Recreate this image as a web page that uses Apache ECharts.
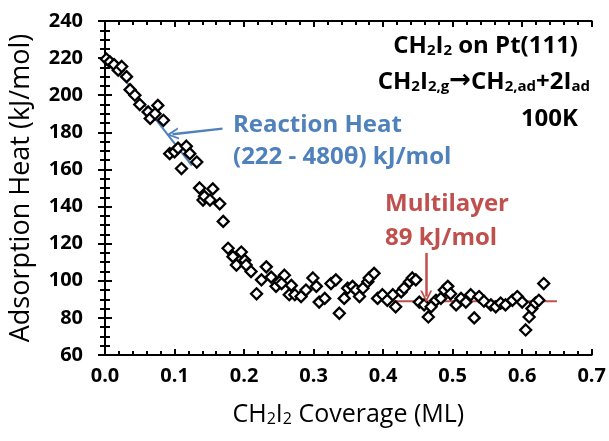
<!DOCTYPE html>
<html>
<head>
<meta charset="utf-8">
<script src="https://cdn.jsdelivr.net/npm/echarts@6/dist/echarts.min.js"></script>
<style>
  html, body { margin: 0; padding: 0; background: #fff; }
  #chart { width: 609px; height: 441px; }
</style>
</head>
<body>
<div id="chart"></div>
<script>
// CH2I2 adsorption heat vs. coverage on Pt(111) at 100 K
const coverage = [
  0.002, 0.007, 0.013, 0.019, 0.024, 0.031, 0.036, 0.043, 0.050, 0.062,
  0.065, 0.072, 0.076, 0.084, 0.093, 0.100, 0.105, 0.110, 0.117, 0.122,
  0.132, 0.136, 0.141, 0.143, 0.151, 0.155, 0.165, 0.170, 0.177, 0.184,
  0.189, 0.196, 0.201, 0.203, 0.210, 0.218, 0.225, 0.232, 0.239, 0.246,
  0.251, 0.254, 0.258, 0.265, 0.268, 0.273, 0.282, 0.289, 0.299, 0.304,
  0.308, 0.316, 0.325, 0.332, 0.337, 0.344, 0.349, 0.356, 0.361, 0.366,
  0.371, 0.378, 0.380, 0.387, 0.392, 0.399, 0.406, 0.414, 0.418, 0.426,
  0.430, 0.438, 0.442, 0.447, 0.452, 0.459, 0.465, 0.469, 0.476, 0.483,
  0.488, 0.493, 0.497, 0.505, 0.512, 0.519, 0.526, 0.531, 0.538, 0.545,
  0.555, 0.562, 0.569, 0.576, 0.586, 0.593, 0.600, 0.605, 0.610, 0.614,
  0.619, 0.624, 0.631
];
const heat = [
  219.5, 218.0, 216.5, 213.5, 215.5, 210.0, 203.0, 200.0, 195.0, 191.0,
  187.5, 190.0, 194.5, 186.5, 168.5, 169.5, 171.5, 160.5, 172.5, 168.5,
  164.0, 150.0, 143.5, 145.5, 143.5, 149.5, 141.5, 132.0, 117.5, 113.0,
  108.5, 115.5, 111.0, 108.5, 105.0, 93.0, 100.5, 107.5, 102.0, 97.0,
  99.5, 98.5, 103.0, 92.5, 97.5, 92.5, 91.5, 95.0, 101.5, 97.0,
  88.5, 90.5, 98.5, 100.5, 82.5, 90.5, 96.0, 97.0, 95.0, 91.5,
  96.0, 99.5, 101.5, 104.0, 90.5, 92.5, 89.5, 92.5, 86.0, 94.0,
  96.0, 99.5, 101.5, 100.5, 88.5, 87.0, 80.5, 86.0, 89.5, 90.5,
  95.0, 97.0, 93.0, 87.0, 90.5, 88.5, 92.5, 80.0, 91.5, 89.0,
  87.0, 86.0, 88.0, 87.0, 89.5, 91.5, 88.5, 73.5, 80.5, 85.0,
  88.0, 89.5, 98.5
];

// Reaction heat fit: 222 - 480*theta, drawn over the low-coverage range
const fitIntercept = 222;
const fitSlope = 480;
const fitRange = [0, 0.125];
// Multilayer heat plateau
const multilayerHeat = 89;
const multilayerRange = [0.41, 0.65];

// Annotation arrows (tail, head) in data units
const fitArrow = [[0.169, 182], [0.097, 179]];
const multiArrow = [[0.462, 115], [0.462, 91.5]];

const xTicks = [0, 0.7, 0.1];
const yTicks = [60, 240, 20];

const BLUE = '#4f81bd';
const RED = '#c0504d';
const FONT = 'Open Sans';

const points = coverage.map((c, i) => [c, heat[i]]);
const fitLine = fitRange.map(t => [t, fitIntercept - fitSlope * t]);
const multiLine = multilayerRange.map(t => [t, multilayerHeat]);

// open chevron arrowhead
const chevron = 'path://M0,10 L5,0 L10,10 L8.4,10 L5,3.2 L1.6,10 Z';

const axisLine = { show: true, lineStyle: { color: '#000', width: 2 } };

function xAxisDef(pos, showLabels) {
  return {
    type: 'value', position: pos,
    min: xTicks[0], max: xTicks[1], interval: xTicks[2],
    axisLine: axisLine,
    axisTick: { show: true, inside: true, length: 6, lineStyle: { color: '#000', width: 2 } },
    minorTick: { show: true, splitNumber: 5, length: 4, lineStyle: { color: '#000', width: 2 } },
    splitLine: { show: false },
    axisLabel: {
      show: showLabels, margin: 11,
      fontFamily: FONT, fontWeight: 'bold', fontSize: 20, color: '#000',
      formatter: v => v.toFixed(1)
    }
  };
}
function yAxisDef(pos, showLabels) {
  return {
    type: 'value', position: pos,
    min: yTicks[0], max: yTicks[1], interval: yTicks[2],
    axisLine: axisLine,
    axisTick: { show: true, inside: false, length: 7, lineStyle: { color: '#000', width: 2 } },
    minorTick: { show: true, splitNumber: 4, length: 5, lineStyle: { color: '#000', width: 2 } },
    splitLine: { show: false },
    axisLabel: {
      show: showLabels, margin: 22,
      fontFamily: FONT, fontWeight: 'bold', fontSize: 20, color: '#000'
    }
  };
}

const xBottom = xAxisDef('bottom', true);
xBottom.name = '{n|CH}{s|2}{n|I}{s|2}{n| Coverage (ML)}';
xBottom.nameLocation = 'middle';
xBottom.nameGap = 40;
xBottom.nameTextStyle = {
  rich: {
    n: { fontFamily: FONT, fontSize: 25, color: '#000', lineHeight: 32, verticalAlign: 'bottom' },
    s: { fontFamily: FONT, fontSize: 16, color: '#000', lineHeight: 14, verticalAlign: 'bottom' }
  }
};

const yLeft = yAxisDef('left', true);
yLeft.name = 'Adsorption Heat (kJ/mol)';
yLeft.nameLocation = 'middle';
yLeft.nameGap = 70;
yLeft.nameTextStyle = { fontFamily: FONT, fontSize: 27, color: '#000' };

const headRich = (color) => ({
  n: { fontFamily: FONT, fontWeight: 'bold', fontSize: 24, fill: color, lineHeight: 30, verticalAlign: 'bottom' },
  s: { fontFamily: FONT, fontWeight: 'bold', fontSize: 15, fill: color, lineHeight: 13, verticalAlign: 'bottom' },
  a: { fontFamily: 'DejaVu Sans', fontWeight: 'bold', fontSize: 26, fill: color, lineHeight: 30, verticalAlign: 'bottom' }
});
const note = (color) => ({ fontFamily: FONT, fontWeight: 'bold', fontSize: 24, fill: color, verticalAlign: 'middle' });

const option = {
  animation: false,
  backgroundColor: '#fff',
  grid: { left: 105, right: 16, top: 21, bottom: 86, containLabel: false },
  xAxis: [xBottom, xAxisDef('top', false)],
  yAxis: [yLeft, yAxisDef('right', false)],
  series: [
    {
      type: 'line', data: fitLine, xAxisIndex: 0, yAxisIndex: 0,
      symbol: 'none', z: 1,
      lineStyle: { color: BLUE, width: 2 },
      markLine: {
        silent: true, symbol: ['none', chevron], symbolSize: [12, 12],
        label: { show: false },
        lineStyle: { color: BLUE, width: 2.5, type: 'solid' },
        data: [[{ coord: fitArrow[0] }, { coord: fitArrow[1] }]]
      }
    },
    {
      type: 'line', data: multiLine, xAxisIndex: 0, yAxisIndex: 0,
      symbol: 'none', z: 1,
      lineStyle: { color: RED, width: 2 },
      markLine: {
        silent: true, symbol: ['none', chevron], symbolSize: [12, 12],
        label: { show: false },
        lineStyle: { color: RED, width: 2.5, type: 'solid' },
        data: [[{ coord: multiArrow[0] }, { coord: multiArrow[1] }]]
      }
    },
    {
      type: 'scatter', data: points, xAxisIndex: 0, yAxisIndex: 0,
      symbol: 'diamond', symbolSize: 11, z: 3,
      itemStyle: { color: '#fff', borderColor: '#000', borderWidth: 2.3, opacity: 1 }
    }
  ],
  graphic: [
    { type: 'text', x: 578, y: 43, style: { text: '{n|CH}{s|2}{n|I}{s|2}{n| on Pt(111)}', rich: headRich('#000'), align: 'right', verticalAlign: 'middle' } },
    { type: 'text', x: 590, y: 79, style: { text: '{n|CH}{s|2}{n|I}{s|2,g}{a|→}{n|CH}{s|2,ad}{n|+2I}{s|ad}', rich: headRich('#000'), align: 'right', verticalAlign: 'middle' } },
    { type: 'text', x: 578, y: 119, style: Object.assign({ text: '100K', align: 'right' }, note('#000')) },
    { type: 'text', x: 233, y: 125, style: Object.assign({ text: 'Reaction Heat', align: 'left' }, note(BLUE)) },
    { type: 'text', x: 233, y: 157, style: Object.assign({ text: '(222 - 480θ) kJ/mol', align: 'left' }, note(BLUE)) },
    { type: 'text', x: 385, y: 204, style: Object.assign({ text: 'Multilayer', align: 'left' }, note(RED)) },
    { type: 'text', x: 385, y: 238, style: Object.assign({ text: '89 kJ/mol', align: 'left' }, note(RED)) }
  ]
};

const chart = echarts.init(document.getElementById('chart'), null, { renderer: 'canvas' });
chart.setOption(option);
</script>
</body>
</html>
